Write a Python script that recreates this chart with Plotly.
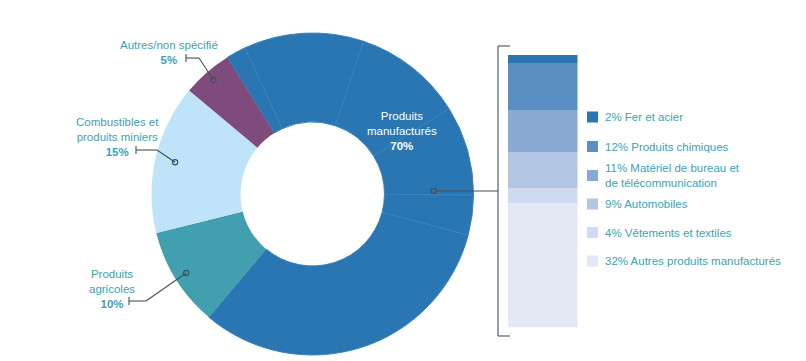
import math
import plotly.graph_objects as go

# ---------------- data ----------------
manuf_names = ["Fer et acier", "Produits chimiques",
               "Matériel de bureau et<br>de télécommunication",
               "Automobiles", "Vêtements et textiles", "Autres produits manufacturés"]
manuf_values = [2, 12, 11, 9, 4, 32]
manuf_colors = ["#2a76b3", "#5b8fc4", "#88a9d2", "#b2c5e2", "#d0daf0", "#e2e8f4"]

other_names = ["Produits<br>agricoles", "Combustibles et<br>produits miniers", "Autres/non spécifié"]
other_values = [10, 15, 5]
other_colors = ["#419fb0", "#bfe4f9", "#7f4b7d"]

manuf_label = "Produits<br>manufacturés"
manuf_total = sum(manuf_values)
manuf_pie_color = "#2a76b2"

# page geometry (the page body has an 8px margin)
OFF = 8
W, H = 798, 353
X0, X1 = OFF, OFF + W          # page x range covered by the figure
Y0, Y1 = OFF, OFF + H          # page y range covered by the figure

CX, CY, R = 312.5, 194, 161
HOLE = 0.447
ROT = -32  # start angle (degrees clockwise from 12 o'clock)
TEXT_COLOR = "#3ba2b8"
LINE_COLOR = "#434f59"
FONT = "Liberation Sans, Arial, sans-serif"
FS = 11.5


def px2paper_x(x):
    return (x - X0) / W


def px2paper_y(y):
    return (Y1 - y) / H


fig = go.Figure()

# donut
pie_values = manuf_values + other_values
pie_total = sum(pie_values)
pie_colors = [manuf_pie_color] * len(manuf_values) + other_colors
line_colors = ["#3a82bd"] * len(manuf_values) + ["rgba(0,0,0,0)"] * len(other_values)
line_widths = [1] * len(manuf_values) + [0] * len(other_values)
fig.add_trace(go.Pie(
    values=pie_values, sort=False, direction="clockwise", rotation=ROT,
    hole=HOLE, textinfo="none", showlegend=False, hoverinfo="skip",
    marker=dict(colors=pie_colors, line=dict(color=line_colors, width=line_widths)),
    domain=dict(x=[px2paper_x(CX - R), px2paper_x(CX + R)], y=[px2paper_y(CY + R), px2paper_y(CY - R)]),
))

# stacked bar of manufactured products
for name, v, c in zip(manuf_names, manuf_values, manuf_colors):
    fig.add_trace(go.Bar(x=[0], y=[v], marker=dict(color=c, line=dict(width=0)),
                         xaxis="x2", yaxis="y2", showlegend=False, hoverinfo="skip", width=1))

shapes = []
annotations = []


def angle_point(cum, radius):
    ang = math.radians(ROT + 360 * cum / pie_total)
    return CX + radius * math.sin(ang), CY - radius * math.cos(ang)


def dot(x, y):
    shapes.append(dict(type="circle", xref="x", yref="y", x0=x - 2.6, x1=x + 2.6, y0=y - 2.6, y1=y + 2.6,
                       line=dict(color=LINE_COLOR, width=1.2), fillcolor="rgba(0,0,0,0)", layer="above"))


def seg(x0, y0, x1, y1):
    shapes.append(dict(type="line", xref="x", yref="y", x0=x0, y0=y0, x1=x1, y1=y1,
                       line=dict(color=LINE_COLOR, width=1.1), layer="above"))


# outside labels for the other categories
cum = manuf_total
label_cfg = [  # (dot radius, elbow x, elbow y, tick x, text x, text y)
    (149, 146, 301, 129, 112, 289),
    (141, 157, 150, 136, 117, 137),
    (151, 199, 58, 186, 169, 52),
]
for (name, v), (rad, ex, ey, tx, lx, ly) in zip(zip(other_names, other_values), label_cfg):
    px, py = angle_point(cum + v / 2, rad)
    dot(px, py)
    seg(px, py, ex, ey)
    seg(ex, ey, tx, ey)
    seg(tx, ey - 4, tx, ey + 4)
    annotations.append(dict(x=lx, y=ly, xref="x", yref="y", showarrow=False, align="center",
                            text=f"{name}<br><b>{v}%</b>", yanchor="middle", xanchor="center",
                            font=dict(color=TEXT_COLOR, size=FS, family=FONT)))
    cum += v

# inside label for manufactured products
annotations.append(dict(x=402, y=131, xref="x", yref="y", showarrow=False, align="center",
                        text=f"{manuf_label}<br><b>{manuf_total}%</b>",
                        font=dict(color="white", size=FS, family=FONT)))

# connector to the bar and bracket
px, py = angle_point(sum(manuf_values[:4]) - 0.5, 121)
dot(px, py)
seg(px + 2.6, py, 498, py)
seg(498, 46, 498, 336)
seg(498, 46, 510, 46)
seg(498, 336, 510, 336)

# legend (manual)
legend_y = [117, 146.5, 175.5, 204, 232.5, 261]
for name, v, c, ly in zip(manuf_names, manuf_values, manuf_colors, legend_y):
    shapes.append(dict(type="rect", xref="x", yref="y", x0=587, x1=598, y0=ly - 5.5, y1=ly + 5.5,
                       fillcolor=c, line=dict(width=0)))
    annotations.append(dict(x=603, y=ly, xref="x", yref="y", showarrow=False, align="left",
                            xanchor="left", yanchor="middle", text=f"{v}% {name}",
                            font=dict(color=TEXT_COLOR, size=FS, family=FONT)))

fig.update_layout(
    width=W, height=H, margin=dict(l=0, r=0, t=0, b=0),
    paper_bgcolor="white", plot_bgcolor="rgba(0,0,0,0)",
    barmode="stack", bargap=0,
    xaxis=dict(range=[X0, X1], domain=[0, 1], visible=False, fixedrange=True),
    yaxis=dict(range=[Y1, Y0], domain=[0, 1], visible=False, fixedrange=True),
    xaxis2=dict(range=[-0.5, 0.5], domain=[px2paper_x(507.5), px2paper_x(577.5)], visible=False, anchor="y2"),
    yaxis2=dict(range=[manuf_total, 0], domain=[px2paper_y(327.3), px2paper_y(54.5)], visible=False, anchor="x2"),
    shapes=shapes, annotations=annotations,
    font=dict(family=FONT, size=FS, color=TEXT_COLOR),
    showlegend=False,
)

fig.write_html("out.html")
